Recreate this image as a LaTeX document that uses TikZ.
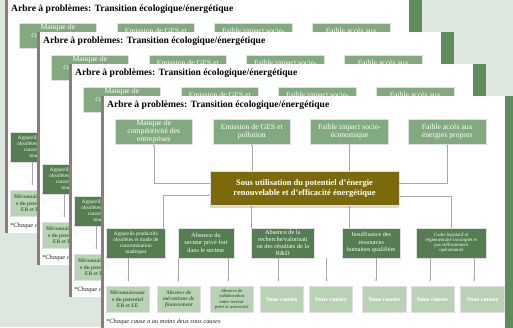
\documentclass[tikz,border=0pt]{standalone}
\usepackage{fontspec}
\setmainfont{Liberation Serif}
\usetikzlibrary{arrows.meta,calc,shadows}
\definecolor{bgc}{HTML}{DDE7DD}
\definecolor{effc}{HTML}{82AA80}
\definecolor{causec}{HTML}{547D52}
\definecolor{subc}{HTML}{B9D2B5}
\definecolor{corec}{HTML}{7B6A0A}
\definecolor{gstrip}{HTML}{5F8C5A}
\definecolor{bstrip}{HTML}{8C7E76}
\definecolor{linec}{HTML}{A8A8A8}
\definecolor{subtext}{HTML}{3E6B3E}
\tikzset{
  box/.style={draw=black!12, line width=0.4pt, inner sep=0pt, align=center, text=white},
  effbox/.style={box, fill=effc, minimum width=77.7pt, minimum height=25pt, font=\fontsize{7.7}{7.9}\selectfont},
  causebox/.style={box, fill=causec, minimum height=30pt},
  subbox/.style={box, fill=subc, minimum width=43.3pt, minimum height=25.3pt},
  sousbox/.style={subbox, font=\bfseries\fontsize{6.3}{7}\selectfont},
  corebox/.style={box, fill=corec, minimum width=189pt, minimum height=34pt, font=\bfseries\fontsize{8.5}{10}\selectfont,
    drop shadow={shadow xshift=0pt, shadow yshift=-2.5pt, opacity=0.3, fill=black!50}},
  conn/.style={draw=linec, line width=0.5pt},
  arr/.style={conn, -{Stealth[length=2.2pt,width=2pt]}},
  subarr/.style={arr, shorten >=5pt},
}
\newcommand\problemslide{%
  \fill[white] (0,0) rectangle (404,233);
  \fill[bstrip] (0,0) rectangle (3,233);
  \fill[gstrip] (404,0) rectangle (417,233);
  \node[anchor=west, inner sep=0pt, font=\bfseries\fontsize{9.6}{11}\selectfont, text=black] (title) at (6,9.5)
    {Arbre à problèmes: Transition écologique/énergétique};
  \node[effbox] (e1) at (52.8,35.5) {Manque de\\compétitivité des\\entreprises};
  \node[effbox] (e2) at (150.8,35.5) {Emission de GES et\\pollution};
  \node[effbox] (e3) at (248.5,35.5) {Faible impact socio-\\économique};
  \node[effbox] (e4) at (346.2,35.5) {Faible accès aux\\énergies propres};
  \node[corebox] (core) at (203.5,92.6) {Sous utilisation du potentiel d'énergie\\renouvelable et d'efficacité énergétique};
  \node[causebox, minimum width=59.7pt, font=\fontsize{5.4}{6}\selectfont] (c1) at (34.8,146.7)
    {Appareils productifs\\obsolètes et mode de\\consommation\\inadéquat};
  \node[causebox, minimum width=56pt, font=\fontsize{6.3}{7.5}\selectfont] (c2) at (105,146.7)
    {Absence du\\secteur privé fort\\dans le secteur};
  \node[causebox, minimum width=62.3pt, font=\fontsize{6.3}{7.2}\selectfont] (c3) at (181.8,146.7)
    {Absence de la\\recherche/valorisati\\on des résultats de la\\R\&D};
  \node[causebox, minimum width=58.7pt, font=\fontsize{6.1}{7.4}\selectfont] (c4) at (270.3,146.7)
    {Insuffisance des\\ressources\\humaines qualifiées};
  \node[causebox, minimum width=70.7pt, font=\fontsize{4.8}{5.1}\selectfont] (c5) at (350.3,146.7)
    {Cadre législatif et\\réglementaire incomplet et\\pas suffisamment\\opérationnel};
  \node[subbox, text=subtext, font=\bfseries\fontsize{5.4}{6.2}\selectfont] (sc1) at (26.7,203.3)
    {Méconnaissanc\\e du potentiel\\ER et EE};
  \node[subbox, text=subtext, font=\bfseries\itshape\fontsize{5.4}{6.2}\selectfont] (sc2) at (77.7,203.3)
    {Absence de\\mécanisme de\\financement};
  \node[subbox, text=subtext, font=\bfseries\itshape\fontsize{4.6}{5.3}\selectfont] (sc3) at (130.7,203.3)
    {Absence de\\collaboration\\entre secteur\\privé et université};
  \node[sousbox] (sc4) at (180.7,203.3) {Sous causes};
  \node[sousbox] (sc5) at (229.8,203.3) {Sous causes};
  \node[sousbox] (sc6) at (283.3,203.3) {Sous causes};
  \node[sousbox] (sc7) at (331.5,203.3) {Sous causes};
  \node[sousbox] (sc8) at (381.3,203.3) {Sous causes};
  \node[anchor=west, inner sep=0pt, font=\itshape\fontsize{6.4}{7.5}\selectfont, text=black!85] (note) at (5,226)
    {*Chaque cause a au moins deux sous causes};
  % core -> effects
  \draw[arr] ([yshift=5.3pt]core.west) -| (e1.south);
  \draw[arr] (core.north -| e2.south) -- (e2.south);
  \draw[arr] (core.north -| e3.south) -- (e3.south);
  \draw[arr] ([yshift=5.6pt]core.east) -| (e4.south);
  % causes -> core
  \draw[arr] ([xshift=-2.4pt]c1.north east) |- ([yshift=-6.4pt]core.west);
  \draw[arr] (c3.north west) -- (c3.north west |- core.south);
  \draw[arr] (e3.south |- c4.north) -- (e3.south |- core.south);
  \draw[arr] (c5.north) |- ([yshift=-8.1pt]core.east);
  % causes -> sub causes
  \draw[subarr] ($(sc1.north |- c1.south)+(0.6,0)$) -- ($(sc1.north)+(0.6,0)$);
  \draw[subarr] ($(sc2.north |- c1.south)+(-0.4,0)$) -- ($(sc2.north)+(-0.4,0)$);
  \draw[subarr] ($(sc3.north |- c1.south)+(-3.4,0)$) -- ($(sc3.north)+(-3.4,0)$);
  \draw[subarr] ($(sc4.north |- c1.south)+(-3.4,0)$) -- ($(sc4.north)+(-3.4,0)$);
  \draw[subarr] ($(sc5.north |- c1.south)+(-4.1,0)$) -- ($(sc5.north)+(-4.1,0)$);
  \draw[subarr] ($(sc6.north |- c1.south)+(-8.3,0)$) -- ($(sc6.north)+(-8.3,0)$);
  \draw[subarr] ($(sc7.north |- c1.south)+(-2.5,0)$) -- ($(sc7.north)+(-2.5,0)$);
  \draw[subarr] ($(sc8.north |- c1.south)+(-8.3,0)$) -- ($(sc8.north)+(-8.3,0)$);
}
\begin{document}
\begin{tikzpicture}[x=1pt,y=-1pt]
  \useasboundingbox (0,0) rectangle (513,327);
  \clip (0,0) rectangle (513,327);
  \fill[bgc] (0,0) rectangle (513,327);
  \foreach \k in {0,1,2,3} {
    \begin{scope}[shift={(5+32*\k,32*\k)}, name prefix=sl\k-]
      \problemslide
    \end{scope}
  }
\end{tikzpicture}
\end{document}
